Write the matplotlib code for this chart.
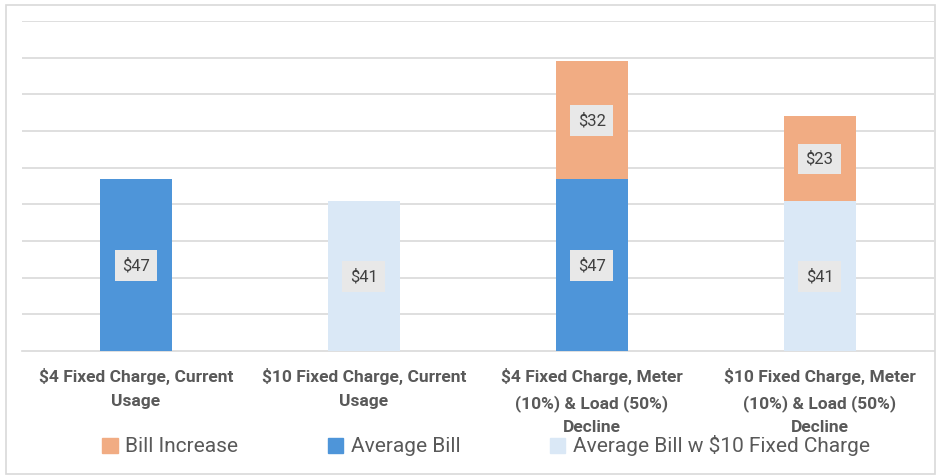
import matplotlib
matplotlib.use("Agg")
import matplotlib.pyplot as plt
from matplotlib.patches import Patch, Rectangle

categories = ["$4 Fixed Charge, Current\nUsage",
              "$10 Fixed Charge, Current\nUsage",
              "$4 Fixed Charge, Meter\n(10%) & Load (50%)\nDecline",
              "$10 Fixed Charge, Meter\n(10%) & Load (50%)\nDecline"]
average_bill = [47, 0, 47, 0]
average_bill_10 = [0, 41, 0, 41]
bill_increase = [0, 0, 32, 23]

c_inc = "#F1AC83"
c_avg = "#4E95D9"
c_avg10 = "#DAE8F6"

plt.rcParams['font.family'] = ['Roboto', 'DejaVu Sans']
fig = plt.figure(figsize=(9.4, 4.75), dpi=100)
ax = fig.add_axes([22/940, 124/475, (933.5-22)/940, 330/475])

x = list(range(len(categories)))
w = 0.316
base = [a + b for a, b in zip(average_bill, average_bill_10)]
ax.bar(x, average_bill, w, color=c_avg, zorder=3)
ax.bar(x, average_bill_10, w, color=c_avg10, zorder=3)
ax.bar(x, bill_increase, w, bottom=base, color=c_inc, zorder=3)

box = dict(boxstyle="square,pad=0.45", fc="#E8E8E8", ec="none")
lab_kw = dict(ha="center", va="center", fontsize=12, color="#404040", bbox=box, zorder=4)
for i in x:
    if average_bill[i]:
        ax.text(i, average_bill[i] / 2 - 0.2, f"${average_bill[i]}", **lab_kw)
    if average_bill_10[i]:
        ax.text(i, average_bill_10[i] / 2 - 0.2, f"${average_bill_10[i]}", **lab_kw)
    if bill_increase[i]:
        ax.text(i, base[i] + bill_increase[i] / 2 - 0.2, f"${bill_increase[i]}", **lab_kw)

ax.set_xlim(-0.5, 3.5)
ax.set_ylim(0, 90)
ax.set_yticks(range(10, 91, 10))
ax.yaxis.grid(True, color="#D9D9D9", linewidth=1.2, zorder=0)
ax.set_yticklabels([])
ax.tick_params(axis="both", length=0)
for s in ["top", "right", "left"]:
    ax.spines[s].set_visible(False)
ax.spines["bottom"].set_color("#D9D9D9")
ax.spines["bottom"].set_linewidth(1.2)
ax.set_xticks(x)
ax.set_xticklabels(categories, fontsize=12.5, fontweight="bold", color="#595959", linespacing=1.72)
ax.tick_params(axis="x", pad=12.5)

handles = [Patch(color=c_inc), Patch(color=c_avg), Patch(color=c_avg10)]
labels = ["Bill Increase", "Average Bill", "Average Bill w $10 Fixed Charge"]
fig.legend(handles, labels, loc="center", bbox_to_anchor=(486/940, 1 - 446/475), ncol=3,
           frameon=False, fontsize=15, labelcolor="#595959", handlelength=0.75, handleheight=0.75,
           handletextpad=0.35, columnspacing=4.3)

fig.patches.append(Rectangle((6/940, 1/475), 929/940, 469/475, transform=fig.transFigure,
                             fill=False, ec="#D9D9D9", lw=1.2))
fig.savefig("out.png", dpi=100)
